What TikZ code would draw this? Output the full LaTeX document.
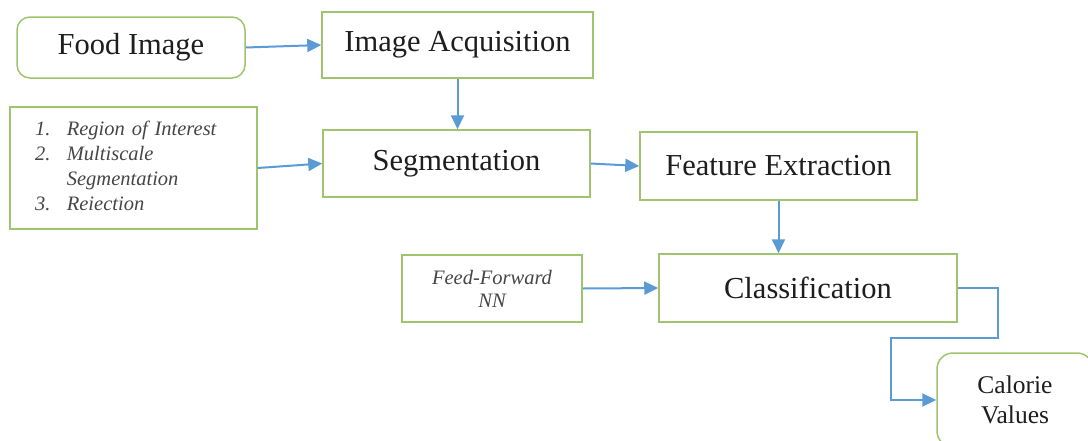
\documentclass[tikz,border=0pt]{standalone}
\usepackage{fontspec}
\setmainfont{Liberation Serif}
\usetikzlibrary{arrows.meta}
\definecolor{boxgreen}{RGB}{160,195,110}
\definecolor{arrowblue}{RGB}{91,155,213}
\definecolor{txt}{RGB}{30,30,30}
\definecolor{itxt}{RGB}{70,70,70}
\tikzset{
  stage/.style={draw=boxgreen, line width=1.5pt, fill=white, inner sep=0pt, text=txt,
    font=\fontsize{30.5}{36}\selectfont},
  roundstage/.style={stage, rounded corners=13pt},
  notebox/.style={draw=boxgreen, line width=1.5pt, fill=white, inner sep=0pt, text=itxt,
    font=\fontsize{20.5}{25}\selectfont\itshape},
  flow/.style={draw=arrowblue, line width=2pt, -{Triangle[length=14pt,width=13pt]}}
}
\begin{document}
\begin{tikzpicture}[x=1pt,y=-1pt]
\useasboundingbox (0,0) rectangle (1088,440);
\clip (0,0) rectangle (1088,440);
\node[roundstage, minimum width=228pt, minimum height=61pt] (food) at (131,47.5) {Food Image};
\node[stage, minimum width=271pt, minimum height=66pt] (acq) at (457.5,45) {Image Acquisition};
\node[notebox, minimum width=247pt, minimum height=122pt, text width=197pt, align=left, inner xsep=25pt] (list) at (133.5,168)
  {\begin{tabular}{@{}l@{\hspace{16.5pt}}l@{}}1. & Region of Interest\\2. & Multiscale\\ & Segmentation\\3. & Reiection\end{tabular}};
\node[stage, minimum width=267pt, minimum height=67pt] (seg) at (456.5,163.5) {Segmentation};
\node[stage, minimum width=277pt, minimum height=68pt] (feat) at (778.5,166) {Feature Extraction};
\node[notebox, minimum width=180pt, minimum height=67pt, align=center,
  font=\fontsize{20.5}{23}\selectfont\itshape] (ff) at (492,288.5) {Feed-Forward\\NN};
\node[stage, minimum width=298pt, minimum height=68pt] (class) at (808,288) {Classification};
\node[roundstage, minimum width=156pt, minimum height=94pt, align=center,
  font=\fontsize{25.5}{30}\selectfont, rounded corners=16pt] (cal) at (1015,400) {Calorie\\Values};
\coordinate (b1) at (998,338);
\coordinate (b2) at (891,338);
\draw[flow] (food.east) -- (acq.west);
\draw[flow] (acq.south) -- (acq.south |- seg.north);
\draw[flow] (list.east) -- (seg.west);
\draw[flow] (seg.east) -- (feat.west);
\draw[flow] (feat.south) -- (feat.south |- class.north);
\draw[flow] (ff.east) -- (class.west);
\draw[flow] (class.east) -| (b1) -- (b2) |- (cal.west);
\end{tikzpicture}
\end{document}
